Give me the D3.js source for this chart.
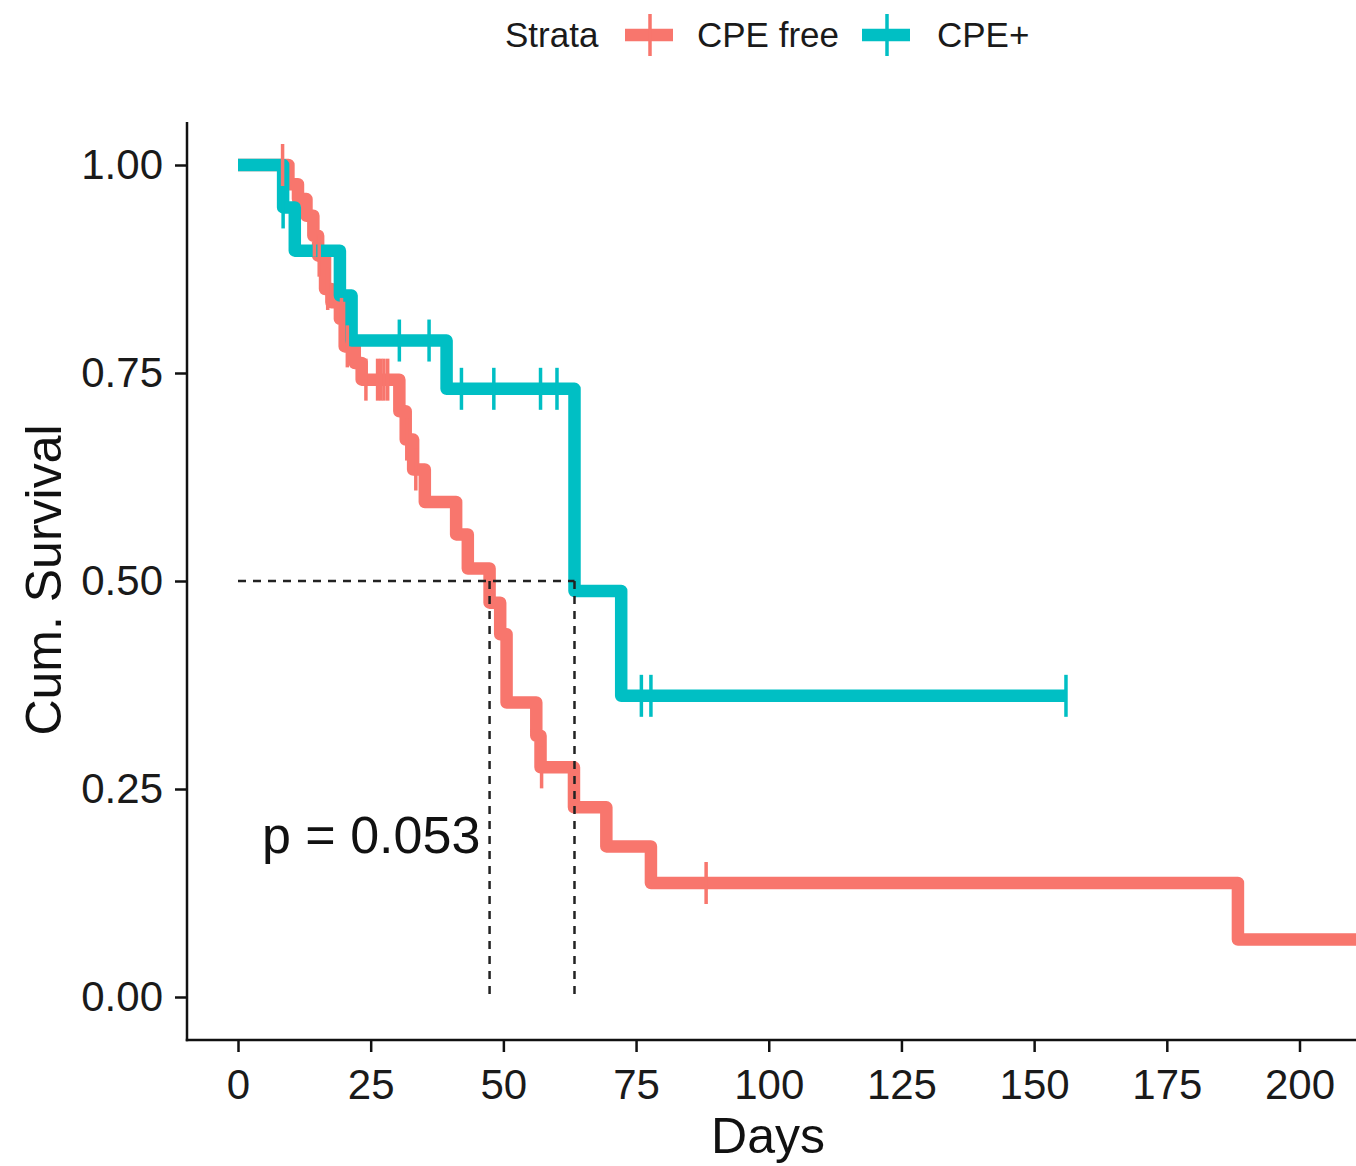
<!DOCTYPE html>
<html>
<head>
<meta charset="utf-8">
<script src="https://cdn.jsdelivr.net/npm/d3@7"></script>
<style>
  body { margin: 0; background: #fff; }
  svg { display: block; font-family: "Liberation Sans", Arial, sans-serif; }
</style>
</head>
<body>
<svg id="chart" width="1356" height="1166"></svg>
<script>
// Kaplan-Meier steps (time in days, survival after the step)
var cpeFreeTime = [0, 9.5, 11.3, 12.9, 14.2, 15.1, 16.4, 17.6, 19.2, 20.1, 22.0, 23.3, 30.4, 31.6, 33.0, 35.2, 41.1, 43.3, 47.4, 49.4, 50.6, 56.2, 57.0, 63.3, 69.4, 77.8, 188.4]
var cpeFreeSurv = [1, 0.977, 0.959, 0.939, 0.915, 0.891, 0.851, 0.835, 0.815, 0.782, 0.762, 0.742, 0.704, 0.670, 0.634, 0.595, 0.556, 0.515, 0.474, 0.436, 0.354, 0.314, 0.276, 0.228, 0.181, 0.137, 0.069]
var cpeFreeEnd = 215
var cpeFreeCensor = [8.4, 14.4, 15.3, 16.9, 19.5, 20.6, 24.1, 26.3, 26.9, 27.5, 28.2, 31.8, 33.5, 57.2, 88.2]

var cpePlusTime = [0, 8.5, 10.7, 19.2, 21.4, 39.3, 63.4, 72.2]
var cpePlusSurv = [1, 0.949, 0.897, 0.843, 0.789, 0.731, 0.488, 0.362]
var cpePlusEnd = 156
var cpePlusCensor = [8.5, 30.4, 36.0, 42.1, 48.2, 57.0, 60.1, 76.0, 77.8, 156]

var medianTimes = [47.4, 63.4]
var xTicks = [0, 25, 50, 75, 100, 125, 150, 175, 200]
var yTicks = [0, 0.25, 0.5, 0.75, 1]
var pLabel = "p = 0.053"

var strata = [
    {name: "CPE free", color: "#F8766D", time: cpeFreeTime, surv: cpeFreeSurv, end: cpeFreeEnd, censor: cpeFreeCensor},
    {name: "CPE+", color: "#00BFC4", time: cpePlusTime, surv: cpePlusSurv, end: cpePlusEnd, censor: cpePlusCensor}
]

var svg = d3.select("#chart")

var plot = {left: 187, right: 1356, top: 122, bottom: 1040}

var xScale = d3.scaleLinear().domain([0, 200]).range([238, 1299.5])
var yScale = d3.scaleLinear().domain([0, 1]).range([997, 165])

svg.append("defs").append("clipPath").attr("id", "clip")
    .append("rect")
    .attr("x", plot.left).attr("y", plot.top)
    .attr("width", plot.right - plot.left).attr("height", plot.bottom - plot.top)

//survival value at a given time (step function lookup)
function survAt(s, t) {
    var v = s.surv[0]
    for (var i = 0; i < s.time.length; i++) {
        if (s.time[i] <= t) v = s.surv[i]
    }
    return v
}

var g = svg.append("g").attr("clip-path", "url(#clip)")

var line = d3.line()
    .x(d => xScale(d[0]))
    .y(d => yScale(d[1]))
    .curve(d3.curveStepAfter)

strata.forEach(function(s) {
    var pts = s.time.map((t, i) => [t, s.surv[i]])
    pts.push([s.end, s.surv[s.surv.length - 1]])
    g.append("path")
        .datum(pts)
        .attr("fill", "none")
        .attr("stroke", s.color)
        .attr("stroke-width", 12.5)
        .attr("stroke-linejoin", "round")
        .attr("d", line)
})

// median lines
var dash = g.append("g")
    .attr("stroke", "#222")
    .attr("stroke-width", 2.5)
    .attr("stroke-dasharray", "8,7")
    .attr("fill", "none")
dash.append("line")
    .attr("x1", xScale(0)).attr("x2", xScale(d3.max(medianTimes)))
    .attr("y1", yScale(0.5)).attr("y2", yScale(0.5))
dash.selectAll(".vm")
    .data(medianTimes)
    .enter()
    .append("line")
    .attr("x1", d => xScale(d)).attr("x2", d => xScale(d))
    .attr("y1", yScale(0.5)).attr("y2", yScale(0))

// censor marks
strata.forEach(function(s) {
    g.selectAll(null)
        .data(s.censor)
        .enter()
        .append("line")
        .attr("x1", d => xScale(d)).attr("x2", d => xScale(d))
        .attr("y1", d => yScale(survAt(s, d)) - 21)
        .attr("y2", d => yScale(survAt(s, d)) + 21)
        .attr("stroke", s.color)
        .attr("stroke-width", 3.5)
})

// axes
var xAxis = svg.append("g")
    .attr("transform", `translate(0,${plot.bottom})`)
    .call(d3.axisBottom(xScale).tickValues(xTicks).tickSize(12).tickPadding(17))
var yAxis = svg.append("g")
    .attr("transform", `translate(${plot.left},0)`)
    .call(d3.axisLeft(yScale).tickValues(yTicks).tickFormat(d3.format(".2f")).tickSize(12).tickPadding(12))

;[xAxis, yAxis].forEach(function(a) {
    a.select(".domain").remove()
    a.selectAll(".tick line").attr("stroke", "#111").attr("stroke-width", 2.5)
    a.selectAll(".tick text").attr("fill", "#1a1a1a").style("font-size", "42px")
})

svg.append("line")
    .attr("x1", plot.left - 1.25).attr("x2", plot.right)
    .attr("y1", plot.bottom).attr("y2", plot.bottom)
    .attr("stroke", "#111").attr("stroke-width", 2.5)
svg.append("line")
    .attr("x1", plot.left).attr("x2", plot.left)
    .attr("y1", plot.top).attr("y2", plot.bottom + 1.25)
    .attr("stroke", "#111").attr("stroke-width", 2.5)

// titles
svg.append("text")
    .attr("x", 768).attr("y", 1153)
    .attr("text-anchor", "middle")
    .style("font-size", "50px").attr("fill", "#111")
    .text("Days")
svg.append("text")
    .attr("transform", "translate(61,580) rotate(-90)")
    .attr("text-anchor", "middle")
    .style("font-size", "50px").attr("fill", "#111")
    .text("Cum. Survival")

svg.append("text")
    .attr("x", 262).attr("y", 853)
    .style("font-size", "52px").attr("fill", "#111")
    .text(pLabel)

// legend
var legend = svg.append("g")
legend.append("text")
    .attr("x", 505).attr("y", 47)
    .style("font-size", "35px").attr("fill", "#1a1a1a")
    .text("Strata")
var keyX = [625, 862]
var labelX = [697, 937]
strata.forEach(function(s, i) {
    legend.append("line")
        .attr("x1", keyX[i]).attr("x2", keyX[i] + 48)
        .attr("y1", 35).attr("y2", 35)
        .attr("stroke", s.color).attr("stroke-width", 12.5)
    legend.append("line")
        .attr("x1", keyX[i] + 25).attr("x2", keyX[i] + 25)
        .attr("y1", 14).attr("y2", 56)
        .attr("stroke", s.color).attr("stroke-width", 3.5)
    legend.append("text")
        .attr("x", labelX[i]).attr("y", 47)
        .style("font-size", "35px").attr("fill", "#1a1a1a")
        .text(s.name)
})
</script>
</body>
</html>
